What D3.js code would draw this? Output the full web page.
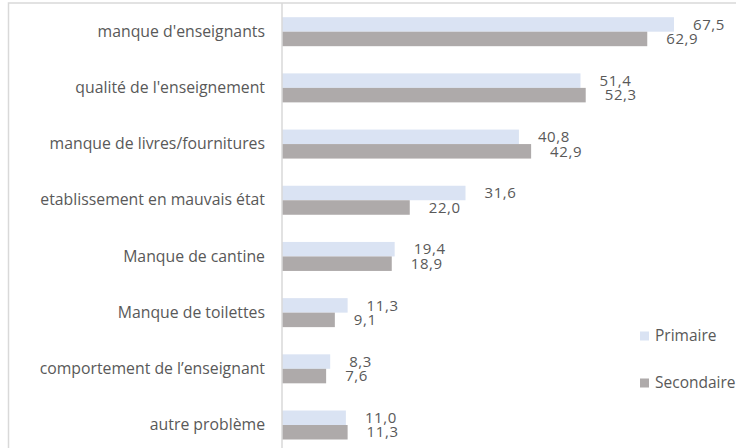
<!DOCTYPE html>
<html>
<head>
<meta charset="utf-8">
<script src="https://cdn.jsdelivr.net/npm/d3@7"></script>
<style>
  html, body { margin: 0; padding: 0; background: #ffffff; }
  svg { display: block; }
  text { font-family: "Open Sans", sans-serif; fill: #595959; }
</style>
</head>
<body>
<script>
const categories = [
  "manque d'enseignants",
  "qualité de l'enseignement",
  "manque de livres/fournitures",
  "etablissement en mauvais état",
  "Manque de cantine",
  "Manque de toilettes",
  "comportement de l\u2019enseignant",
  "autre problème"
];
const seriesNames = ["Primaire", "Secondaire"];
const primaire   = [67.5, 51.4, 40.8, 31.6, 19.4, 11.3, 8.3, 11.0];
const secondaire = [62.9, 52.3, 42.9, 22.0, 18.9, 9.1, 7.6, 11.3];
const colors = ["#dae3f3", "#aeaaaa"];

const W = 736, H = 448;
const svg = d3.select("body").append("svg").attr("width", W).attr("height", H);

// chart frame
svg.append("rect")
  .attr("x", 8.5).attr("y", 3)
  .attr("width", 800).attr("height", 600)
  .attr("fill", "none").attr("stroke", "#d9d9d9").attr("stroke-width", 1.5);

const x = d3.scaleLinear().domain([0, 70]).range([282, 282 + 70 * 5.807]);
const y = d3.scaleBand().domain(categories).range([3.6, 453.1])
  .paddingInner(0.484).paddingOuter(0.242);
const ys = d3.scaleBand().domain(seriesNames).range([0, y.bandwidth()]);

const data = categories.map((c, i) => ({ cat: c, values: [primaire[i], secondaire[i]] }));
const fmt = v => d3.format(".1f")(v).replace(".", ",");

const groups = svg.append("g").selectAll("g").data(data).join("g")
  .attr("transform", d => `translate(0,${y(d.cat)})`);

groups.selectAll("rect").data(d => d.values.map((v, k) => ({ v, k })))
  .join("rect")
  .attr("x", x(0))
  .attr("y", d => ys(seriesNames[d.k]))
  .attr("width", d => x(d.v) - x(0))
  .attr("height", ys.bandwidth())
  .attr("fill", d => colors[d.k]);

groups.selectAll("text.val").data(d => d.values.map((v, k) => ({ v, k })))
  .join("text").attr("class", "val")
  .attr("x", d => x(d.v) + 19)
  .attr("y", d => ys(seriesNames[d.k]) + ys.bandwidth() / 2)
  .attr("dy", "0.35em")
  .style("font-size", "15px")
  .style("letter-spacing", "0.6px")
  .text(d => fmt(d.v));

// category axis
const yAxis = d3.axisLeft(y).tickSize(0).tickPadding(17);
const ag = svg.append("g").attr("transform", `translate(${x(0)},0)`).call(yAxis);
ag.select(".domain").attr("stroke", "#d9d9d9").attr("stroke-width", 1.5)
  .attr("d", `M0,3V${H}`);
ag.selectAll("text").style("font-size", "15.8px").attr("fill", "#595959")
  .style("font-family", "'Open Sans', sans-serif");

// legend
const lg = svg.append("g");
const legY = [336, 383];
seriesNames.forEach((s, k) => {
  lg.append("rect").attr("x", 640).attr("y", legY[k] - 4.5)
    .attr("width", 9).attr("height", 9).attr("fill", colors[k]);
  lg.append("text").attr("x", 655).attr("y", legY[k]).attr("dy", "0.35em")
    .style("font-size", "15.5px").text(s);
});
</script>
</body>
</html>
